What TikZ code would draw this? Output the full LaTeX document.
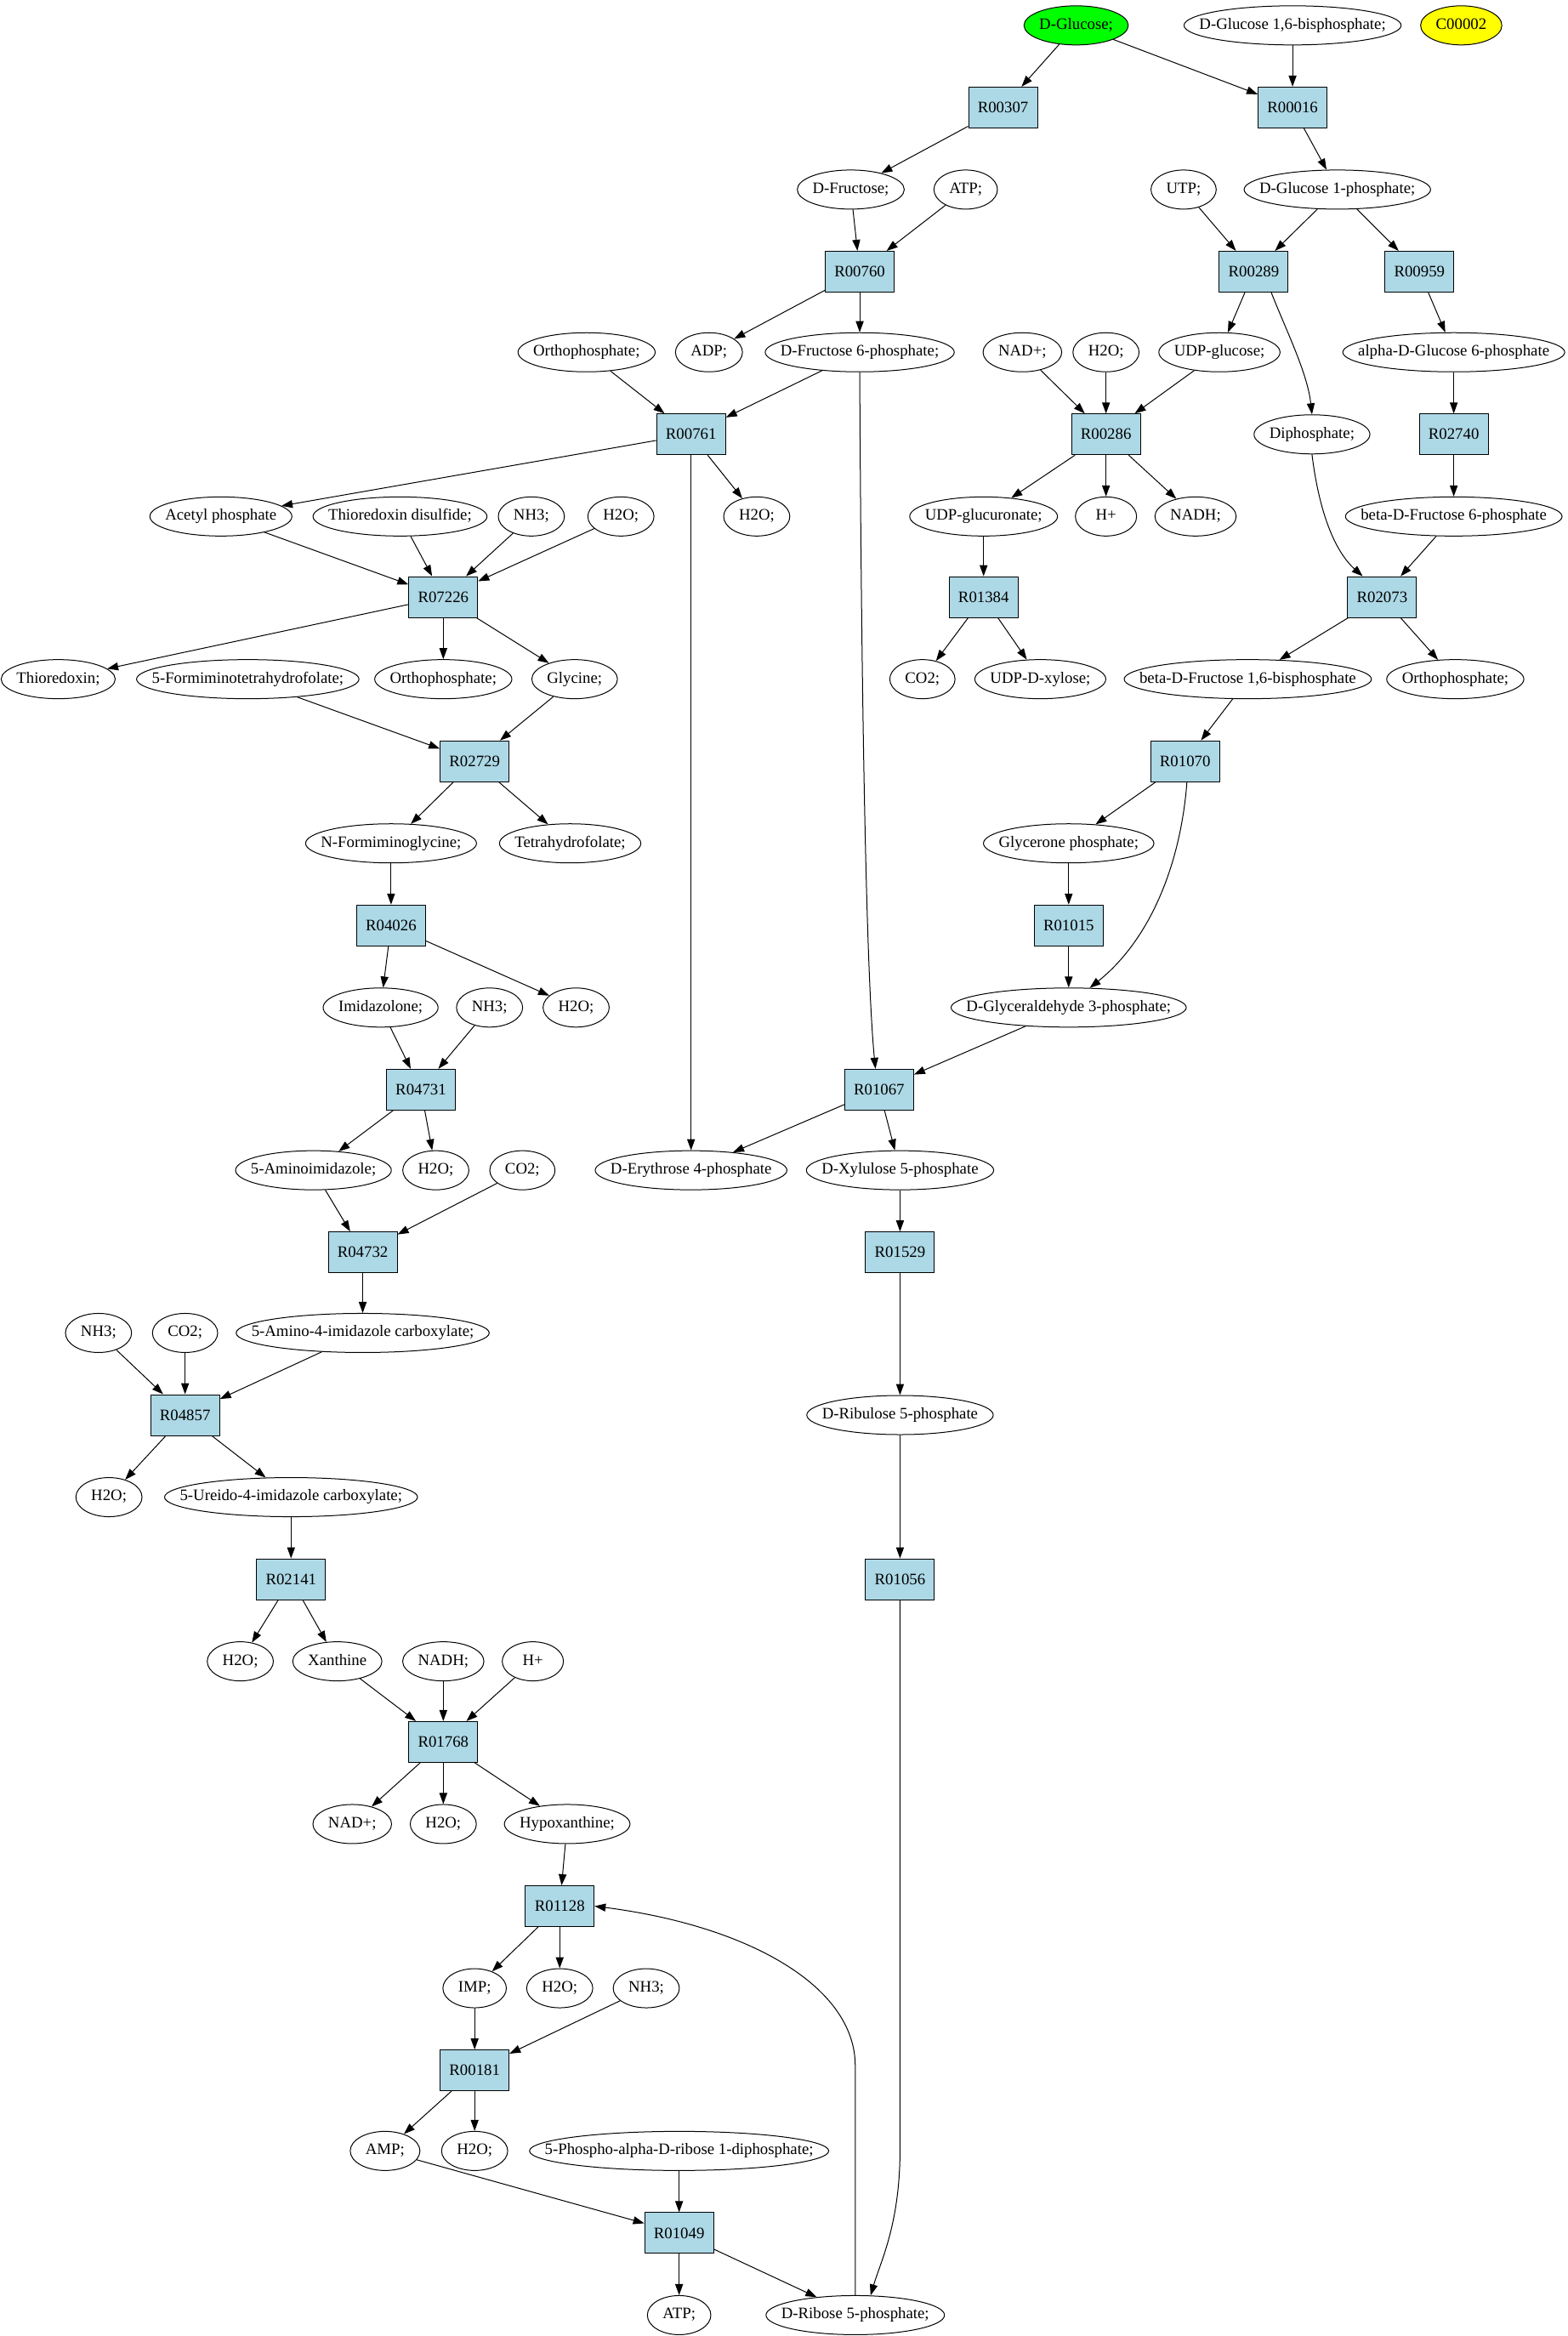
\documentclass[tikz,border=0pt]{standalone}
\usepackage{fontspec}
\setmainfont{Liberation Serif}
\usetikzlibrary{arrows.meta,shapes.geometric}
\definecolor{rxnblue}{HTML}{ADD8E6}
\definecolor{glcgreen}{HTML}{00FF00}
\definecolor{cpdyellow}{HTML}{FFFF00}
\newcommand\nfont{\fontsize{9.4}{11}\selectfont}
% ellipse whose width is the text width + 18pt (graphviz-like)
\newcommand\eltext[1]{\setbox0=\hbox{#1}%
  \makebox[\dimexpr(\wd0+18pt)*10000/14142\relax]{\strut#1}}
\newcommand\met[5][]{\node[met,#1] (#2) at (#3,#4) {\eltext{#5}};}
\newcommand\rxn[3]{\node[rxnbox] (#1) at (#2,#3) {#1};}
\begin{document}
\begin{tikzpicture}[x=0.8776pt,y=-0.8776pt,
  met/.style={ellipse,draw,line width=0.5pt,inner xsep=0pt,inner ysep=0pt,minimum width=36pt,minimum height=23pt,font=\nfont},
  rxnbox/.style={rectangle,draw,line width=0.5pt,fill=rxnblue,minimum width=40.5pt,minimum height=24pt,inner sep=0pt,font=\nfont},
  e/.style={-{Triangle[length=6.5pt,width=4.6pt]},line width=0.5pt}]
\useasboundingbox (0,0) rectangle (1050,1565);
% ---- compounds
\met[fill=glcgreen]{glc}{721}{17}{D-Glucose;}
\met{gbp}{866}{17}{D-Glucose 1,6-bisphosphate;}
\met[fill=cpdyellow]{c2}{979}{17}{C00002}
\met{fru}{570}{127}{D-Fructose;}
\met{atp1}{647}{127}{ATP;}
\met{utp}{793}{127}{UTP;}
\met{g1p}{896}{127}{D-Glucose 1-phosphate;}
\met{pi1}{393}{236}{Orthophosphate;}
\met{adp}{475}{236}{ADP;}
\met{f6p}{576}{236}{D-Fructose 6-phosphate;}
\met{nad1}{685}{236}{NAD+;}
\met{h2o1}{741}{236}{H2O;}
\met{udpg}{817}{236}{UDP-glucose;}
\met{ag6p}{974}{236}{alpha-D-Glucose 6-phosphate}
\met{ppi}{879}{291}{Diphosphate;}
\met{acp}{148}{346}{Acetyl phosphate}
\met{trxss}{268}{346}{Thioredoxin disulfide;}
\met{nh3a}{356}{346}{NH3;}
\met{h2o2}{416}{346}{H2O;}
\met{h2o3}{507}{346}{H2O;}
\met{udpgl}{659}{346}{UDP-glucuronate;}
\met{hp1}{741}{346}{H+}
\met{nadh1}{801}{346}{NADH;}
\met{bf6p}{974}{346}{beta-D-Fructose 6-phosphate}
\met{trx}{39}{455}{Thioredoxin;}
\met{fthf}{166}{455}{5-Formiminotetrahydrofolate;}
\met{pi2}{297}{455}{Orthophosphate;}
\met{gly}{385}{455}{Glycine;}
\met{co2a}{618}{455}{CO2;}
\met{udpx}{697}{455}{UDP-D-xylose;}
\met{fbp}{836}{455}{beta-D-Fructose 1,6-bisphosphate}
\met{pi3}{975}{455}{Orthophosphate;}
\met{fig}{262}{565}{N-Formiminoglycine;}
\met{thf}{382}{565}{Tetrahydrofolate;}
\met{dhap}{716}{565}{Glycerone phosphate;}
\met{imz}{255}{675}{Imidazolone;}
\met{nh3b}{328}{675}{NH3;}
\met{h2o4}{386}{675}{H2O;}
\met{gap}{716}{675}{D-Glyceraldehyde 3-phosphate;}
\met{aim}{210}{784}{5-Aminoimidazole;}
\met{h2o5}{292}{784}{H2O;}
\met{co2b}{350}{784}{CO2;}
\met{e4p}{463}{784}{D-Erythrose 4-phosphate}
\met{xu5p}{603}{784}{D-Xylulose 5-phosphate}
\met{aic}{243}{893}{5-Amino-4-imidazole carboxylate;}
\met{nh3c}{66}{893}{NH3;}
\met{co2c}{124}{893}{CO2;}
\met{ru5p}{603}{948}{D-Ribulose 5-phosphate}
\met{h2o6}{73}{1003}{H2O;}
\met{uic}{195}{1003}{5-Ureido-4-imidazole carboxylate;}
\met{h2o7}{161}{1113}{H2O;}
\met{xan}{226}{1113}{Xanthine}
\met{nadh2}{297}{1113}{NADH;}
\met{hp2}{357}{1113}{H+}
\met{nad2}{236}{1222}{NAD+;}
\met{h2o8}{297}{1222}{H2O;}
\met{hyp}{380}{1222}{Hypoxanthine;}
\met{imp}{318}{1332}{IMP;}
\met{h2o9}{375}{1332}{H2O;}
\met{nh3d}{433}{1332}{NH3;}
\met{amp}{258}{1441}{AMP;}
\met{h2o10}{318}{1441}{H2O;}
\met{prpp}{455}{1441}{5-Phospho-alpha-D-ribose 1-diphosphate;}
\met{atp2}{455}{1551}{ATP;}
\met{r5p}{573}{1551}{D-Ribose 5-phosphate;}
% ---- reactions
\rxn{R00307}{672}{72}
\rxn{R00016}{866}{72}
\rxn{R00760}{576}{182}
\rxn{R00289}{840}{182}
\rxn{R00959}{951}{182}
\rxn{R00761}{463}{291}
\rxn{R00286}{741}{291}
\rxn{R02740}{974}{291}
\rxn{R07226}{297}{400}
\rxn{R01384}{659}{400}
\rxn{R02073}{926}{400}
\rxn{R02729}{318}{510}
\rxn{R01070}{794}{510}
\rxn{R04026}{262}{620}
\rxn{R01015}{716}{620}
\rxn{R04731}{282}{730}
\rxn{R01067}{589}{730}
\rxn{R04732}{243}{839}
\rxn{R01529}{603}{839}
\rxn{R04857}{124}{948}
\rxn{R02141}{195}{1058}
\rxn{R01056}{603}{1058}
\rxn{R01768}{297}{1167}
\rxn{R01128}{375}{1277}
\rxn{R00181}{318}{1387}
\rxn{R01049}{455}{1496}
% ---- edges
\draw[e] (glc) -- (R00307);
\draw[e] (glc) -- (R00016);
\draw[e] (gbp) -- (R00016);
\draw[e] (R00307) -- (fru);
\draw[e] (R00016) -- (g1p);
\draw[e] (fru) -- (R00760);
\draw[e] (atp1) -- (R00760);
\draw[e] (utp) -- (R00289);
\draw[e] (g1p) -- (R00289);
\draw[e] (g1p) -- (R00959);
\draw[e] (R00760) -- (adp);
\draw[e] (R00760) -- (f6p);
\draw[e] (R00289) -- (udpg);
\draw[e] (R00289.-50) .. controls (862,222) and (876,250) .. (ppi.north);
\draw[e] (R00959) -- (ag6p);
\draw[e] (pi1) -- (R00761);
\draw[e] (f6p) -- (R00761);
\draw[e] (f6p.south) .. controls (577,450) and (580,650) .. (R01067.100);
\draw[e] (nad1) -- (R00286);
\draw[e] (h2o1) -- (R00286);
\draw[e] (udpg) -- (R00286);
\draw[e] (ag6p) -- (R02740);
\draw[e] (R00761) -- (acp);
\draw[e] (R00761) -- (h2o3);
\draw[e] (R00761) -- (e4p);
\draw[e] (R00286) -- (udpgl);
\draw[e] (R00286) -- (hp1);
\draw[e] (R00286) -- (nadh1);
\draw[e] (ppi.south) .. controls (884,345) and (895,370) .. (R02073.133);
\draw[e] (R02740) -- (bf6p);
\draw[e] (acp) -- (R07226);
\draw[e] (trxss) -- (R07226);
\draw[e] (nh3a) -- (R07226);
\draw[e] (h2o2) -- (R07226);
\draw[e] (udpgl) -- (R01384);
\draw[e] (bf6p) -- (R02073);
\draw[e] (R07226) -- (trx);
\draw[e] (R07226) -- (pi2);
\draw[e] (R07226) -- (gly);
\draw[e] (R01384) -- (co2a);
\draw[e] (R01384) -- (udpx);
\draw[e] (R02073) -- (fbp);
\draw[e] (R02073) -- (pi3);
\draw[e] (fthf) -- (R02729);
\draw[e] (gly) -- (R02729);
\draw[e] (fbp) -- (R01070);
\draw[e] (R02729) -- (fig);
\draw[e] (R02729) -- (thf);
\draw[e] (R01070) -- (dhap);
\draw[e] (R01070.-85) .. controls (791,580) and (770,630) .. (gap.43);
\draw[e] (fig) -- (R04026);
\draw[e] (dhap) -- (R01015);
\draw[e] (R04026) -- (imz);
\draw[e] (R04026) -- (h2o4);
\draw[e] (R01015) -- (gap);
\draw[e] (imz) -- (R04731);
\draw[e] (nh3b) -- (R04731);
\draw[e] (gap) -- (R01067);
\draw[e] (R04731) -- (aim);
\draw[e] (R04731) -- (h2o5);
\draw[e] (R01067) -- (e4p);
\draw[e] (R01067) -- (xu5p);
\draw[e] (aim) -- (R04732);
\draw[e] (co2b) -- (R04732);
\draw[e] (xu5p) -- (R01529);
\draw[e] (R04732) -- (aic);
\draw[e] (R01529) -- (ru5p);
\draw[e] (nh3c) -- (R04857);
\draw[e] (co2c) -- (R04857);
\draw[e] (aic) -- (R04857);
\draw[e] (ru5p) -- (R01056);
\draw[e] (R04857) -- (h2o6);
\draw[e] (R04857) -- (uic);
\draw[e] (uic) -- (R02141);
\draw[e] (R01056.south) -- (603,1440) .. controls (603,1490) and (590,1515) .. (r5p.52);
\draw[e] (R02141) -- (h2o7);
\draw[e] (R02141) -- (xan);
\draw[e] (xan) -- (R01768);
\draw[e] (nadh2) -- (R01768);
\draw[e] (hp2) -- (R01768);
\draw[e] (R01768) -- (nad2);
\draw[e] (R01768) -- (h2o8);
\draw[e] (R01768) -- (hyp);
\draw[e] (hyp) -- (R01128);
\draw[e] (r5p.north) -- (573,1384) .. controls (573,1330) and (500,1290) .. (R01128.east);
\draw[e] (R01128) -- (imp);
\draw[e] (R01128) -- (h2o9);
\draw[e] (imp) -- (R00181);
\draw[e] (nh3d) -- (R00181);
\draw[e] (R00181) -- (amp);
\draw[e] (R00181) -- (h2o10);
\draw[e] (amp) -- (R01049);
\draw[e] (prpp) -- (R01049);
\draw[e] (R01049) -- (atp2);
\draw[e] (R01049) -- (r5p);
\end{tikzpicture}
\end{document}
